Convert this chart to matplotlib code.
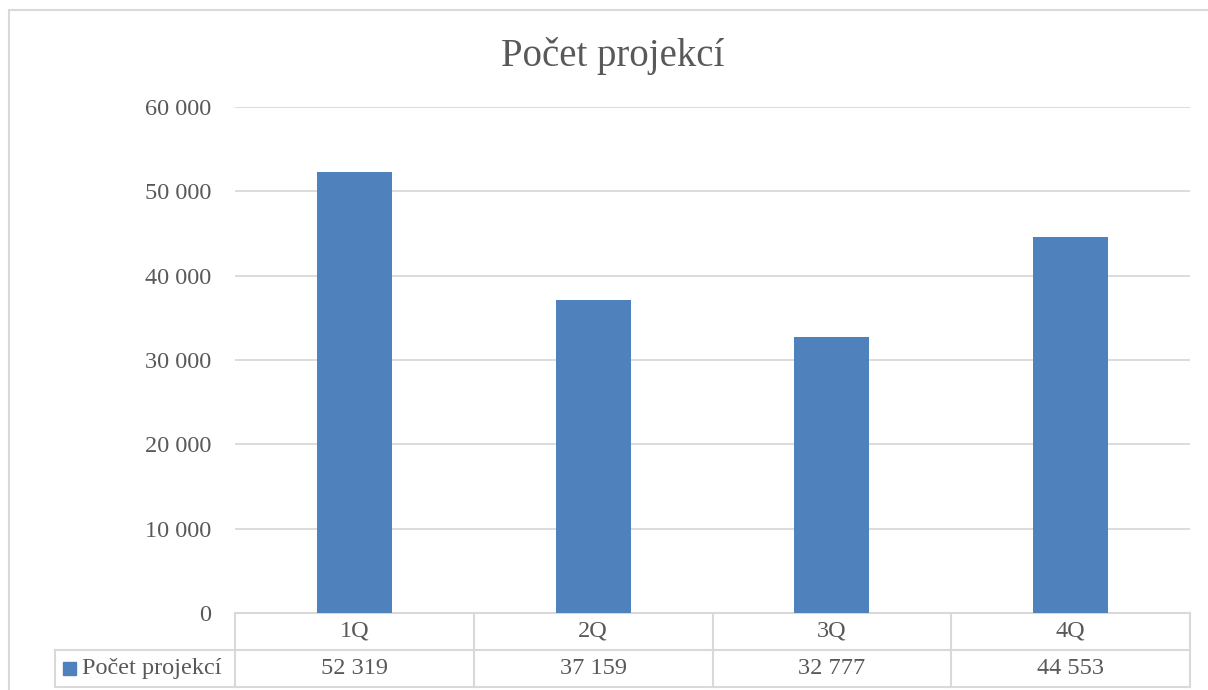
import matplotlib.pyplot as plt
from matplotlib.patches import Rectangle
from matplotlib.transforms import blended_transform_factory

categories = ["1Q", "2Q", "3Q", "4Q"]
values = [52319, 37159, 32777, 44553]
series_name = "Počet projekcí"
y_ticks = [0, 10000, 20000, 30000, 40000, 50000, 60000]

bar_color = "#4f81bd"
text_color = "#595959"
line_color = "#d9d9d9"
fs = 17.5


def fmt(v):
    return f"{v:,}".replace(",", " ")


plt.rcParams['font.family'] = ['Liberation Serif', 'DejaVu Serif']

W, H = 1208, 690
fig = plt.figure(figsize=(W / 100, H / 100), dpi=100)

# chart frame (cut off at right and bottom like the screenshot)
fig.patches.append(Rectangle((9 / W, -0.1), 1.2, (H - 10) / H + 0.1,
                             transform=fig.transFigure, fill=False,
                             edgecolor=line_color, linewidth=1.5))

ax = fig.add_axes([235 / W, 1 - 613 / H, (1190 - 235) / W, (613 - 107) / H])
x = list(range(len(categories)))
ax.bar(x, values, width=0.315, color=bar_color, zorder=3)

ax.set_xlim(-0.5, len(categories) - 0.5)
ax.set_ylim(0, 60000)
ax.set_yticks(y_ticks)
ax.set_yticklabels([fmt(t) for t in y_ticks], fontsize=fs, color=text_color)
ax.tick_params(axis='y', length=0, pad=17)
ax.set_xticks([])
ax.grid(axis='y', color=line_color, linewidth=1.3, zorder=0)
for s in ax.spines.values():
    s.set_visible(False)

fig.text(613 / W, 1 - 56 / H, series_name, ha='center', va='center',
         fontsize=28, color=text_color)

# data table below the plot
tr = blended_transform_factory(ax.transData, ax.transAxes)
row_h = 37 / (613 - 107)
n = len(categories)
lw = 1.5
kw = dict(color=line_color, linewidth=lw, clip_on=False, transform=tr)
for k in range(3):
    ax.plot([-0.5, n - 0.5], [-k * row_h] * 2, **kw)
for i in range(n + 1):
    ax.plot([i - 0.5, i - 0.5], [0, -2 * row_h], **kw)
for i, (c, v) in enumerate(zip(categories, values)):
    ax.text(i, -0.5 * row_h, c, transform=tr, ha='center', va='center',
            fontsize=fs, color=text_color)
    ax.text(i, -1.5 * row_h, fmt(v), transform=tr, ha='center', va='center',
            fontsize=fs, color=text_color)

# legend cell
ta = ax.transAxes
x0 = (55 - 235) / (1190 - 235)
ax.plot([x0, 0], [-row_h, -row_h], color=line_color, linewidth=lw,
        clip_on=False, transform=ta)
ax.plot([x0, 0], [-2 * row_h, -2 * row_h], color=line_color, linewidth=lw,
        clip_on=False, transform=ta)
ax.plot([x0, x0], [-row_h, -2 * row_h], color=line_color, linewidth=lw,
        clip_on=False, transform=ta)
sq_w = 13 / (1190 - 235)
sq_h = 13 / (613 - 107)
ax.add_patch(Rectangle((x0 + 8 / (1190 - 235), -1.5 * row_h - sq_h / 2), sq_w, sq_h,
                       transform=ta, color=bar_color, clip_on=False))
ax.text(x0 + 27 / (1190 - 235), -1.5 * row_h, series_name, transform=ta,
        ha='left', va='center', fontsize=fs, color=text_color)

fig.savefig("out.png", dpi=100)
